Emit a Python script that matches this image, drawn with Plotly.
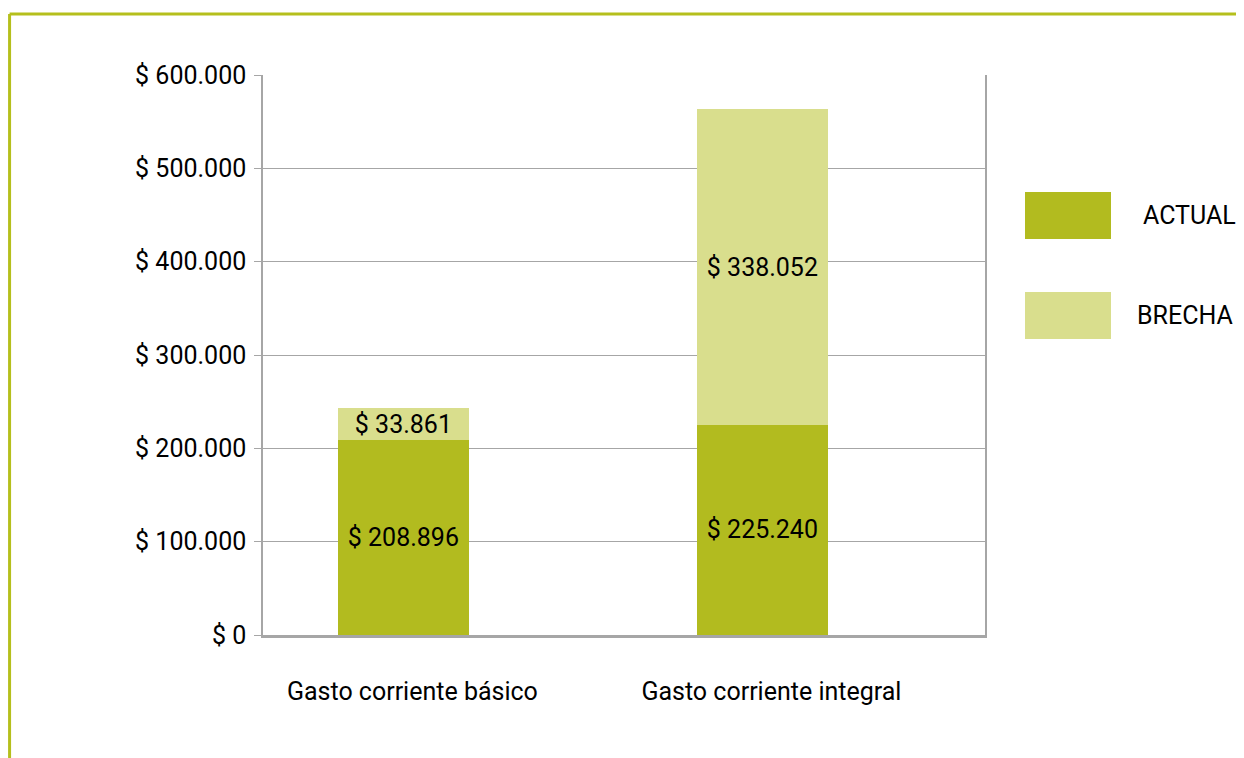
import plotly.graph_objects as go

categories = ["Gasto corriente básico", "Gasto corriente integral"]
actual = [208896, 225240]
brecha = [33861, 338052]
y_ticks = [0, 100000, 200000, 300000, 400000, 500000, 600000]
y_ticklabels = ["$ 0", "$ 100.000", "$ 200.000", "$ 300.000", "$ 400.000", "$ 500.000", "$ 600.000"]
series_names = ["ACTUAL", "BRECHA"]
colors = ["#B2BB1F", "#D9DE8D"]

FONT = "Roboto, sans-serif"
FS = 25

def fmt(v):
    return "$ " + f"{v:,}".replace(",", ".")

x = list(range(len(categories)))
fig = go.Figure()
for name, vals, col in zip(series_names, [actual, brecha], colors):
    fig.add_trace(go.Bar(
        x=x, y=vals, name=name, marker=dict(color=col, line=dict(width=0)),
        width=0.365, text=[fmt(v) for v in vals], textposition="inside",
        insidetextanchor="middle", textangle=0,
        textfont=dict(family=FONT, size=FS, color="#000000"),
        showlegend=False,
    ))

fig.update_layout(
    barmode="stack",
    width=1244, height=758,
    margin=dict(l=255, r=267, t=67, b=131),
    paper_bgcolor="white", plot_bgcolor="white",
    font=dict(family=FONT, size=FS, color="#000000"),
    uniformtext=dict(minsize=FS, mode="show"),
    xaxis=dict(
        range=[-0.391, 1.620], tickvals=x, ticktext=categories,
        showgrid=False, zeroline=False, showline=True, linecolor="#A6A6A6", linewidth=2.5,
        ticks="", ticklabelstandoff=32, ticklabelshift=9,
        tickfont=dict(family=FONT, size=FS, color="#000000"),
    ),
    yaxis=dict(
        range=[0, 600000], tickvals=y_ticks, ticktext=y_ticklabels,
        showgrid=True, gridcolor="#A6A6A6", gridwidth=1.3, zeroline=False,
        showline=True, linecolor="#A6A6A6", linewidth=1.5, mirror=True,
        ticks="outside", ticklen=7, tickcolor="#A6A6A6", tickwidth=1.3,
        ticklabelstandoff=3,
        tickfont=dict(family=FONT, size=FS, color="#000000"),
    ),
)

# outer decorative border (top and left) in paper coords
border = "#B5BF1C"
fig.add_shape(type="line", xref="paper", yref="paper", x0=-0.351, x1=1.38, y0=1.109, y1=1.109,
              line=dict(color=border, width=3))
fig.add_shape(type="line", xref="paper", yref="paper", x0=-0.351, x1=-0.351, y0=1.109, y1=-0.25,
              line=dict(color=border, width=3))

# custom legend
leg_y = [(635 - 215.5) / 560, (635 - 315.5) / 560]
leg_x = [(1189 - 263) / 722, (1185 - 263) / 722]
for name, col, yc, xc in zip(series_names, colors, leg_y, leg_x):
    fig.add_shape(type="rect", xref="paper", yref="paper",
                  x0=(1025 - 263) / 722, x1=(1111 - 263) / 722,
                  y0=yc - 23.5 / 560, y1=yc + 23.5 / 560,
                  fillcolor=col, line=dict(width=0))
    fig.add_annotation(xref="paper", yref="paper", x=xc, y=yc,
                       text=name, showarrow=False, xanchor="center", yanchor="middle",
                       font=dict(family=FONT, size=FS, color="#000000"))

fig.write_html("out.html")
